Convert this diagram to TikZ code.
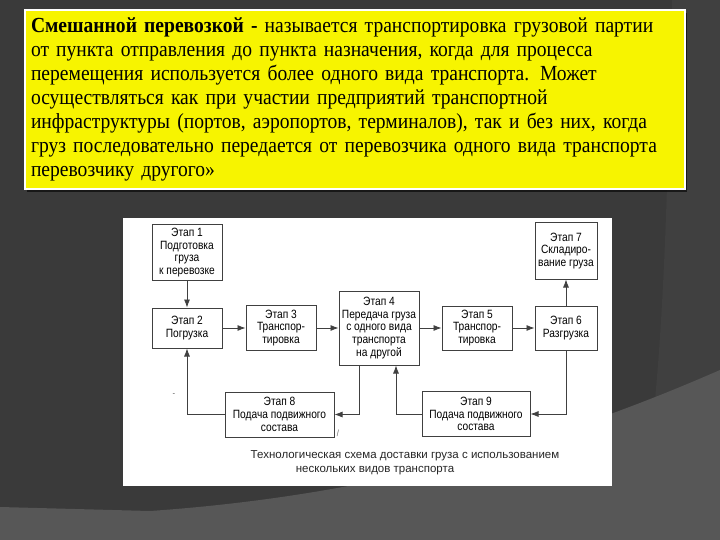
\documentclass[tikz,border=0pt]{standalone}
\usepackage{fontspec}
\setmainfont{Liberation Serif}[FakeStretch=0.91, WordSpace=0.8]
\newfontfamily\schemefont{Liberation Sans}[FakeStretch=0.85]
\newfontfamily\captfont{Liberation Sans}
\usepackage{tikz}
\usetikzlibrary{arrows.meta,positioning,shadows}
\definecolor{slidebg}{HTML}{3A3A3A}
\definecolor{slidearc}{HTML}{404040}
\definecolor{slidelow}{HTML}{575757}
\definecolor{notefill}{HTML}{F7F400}
\tikzset{
  notebox/.style={fill=notefill, draw=white, line width=2pt, align=left,
                  font=\fontsize{21.5}{24}\selectfont, inner xsep=6pt,
                  text width=648pt, minimum height=179pt,
                  drop shadow={shadow xshift=2pt, shadow yshift=-3pt,
                               fill=black, opacity=0.6}},
  stagebox/.style={draw=black!75, line width=1pt, fill=white, align=center,
                   font=\schemefont\fontsize{12}{12.7}\selectfont,
                   inner sep=2pt, minimum width=70pt},
  flow/.style={-{Latex[length=8pt,width=6pt]}, line width=0.8pt, black!75},
  capt/.style={font=\captfont\fontsize{11.5}{13}\selectfont,
               text=black!85, inner sep=0pt},
  speck/.style={font=\schemefont\small, text=black!60, inner sep=0pt},
}

\begin{document}
\begin{tikzpicture}[x=1pt, y=-1pt, node distance=22pt and 22pt]
  \useasboundingbox (0,0) rectangle (720,540);
  % slide background
  \fill[slidebg] (0,0) rectangle (720,540);
  \fill[slidearc] (672,0) .. controls (668,150) and (666,300) .. (652,430)
    -- (720,430) -- (720,0) -- cycle;
  \fill[slidelow] (0,507) -- (150,511) .. controls (380,495) and (560,440)
    .. (720,370) -- (720,540) -- (0,540) -- cycle;
  % definition
  \node[notebox, anchor=north west] (note) at (24,9) {%
    \textbf{Смешанной перевозкой -} называется транспортировка грузовой партии\\
    от пункта отправления до пункта назначения, когда для процесса\\
    перемещения используется более одного вида транспорта. Может\\
    осуществляться как при участии предприятий транспортной\\
    инфраструктуры (портов, аэропортов, терминалов), так и без них, когда\\
    груз последовательно передается от перевозчика одного вида транспорта\\
    перевозчику другого»};
  % scheme sheet
  \fill[white] (123,218) rectangle (612,486);
  % stages
  \node[stagebox, minimum height=40pt] (s2) at (187,328) {Этап 2\\Погрузка};
  \node[stagebox, minimum height=55pt, above=27pt of s2] (s1)
    {Этап 1\\Подготовка\\груза\\к перевозке};
  \node[stagebox, minimum height=45pt, right=23pt of s2] (s3)
    {Этап 3\\Транспор-\\тировка};
  \node[stagebox, minimum width=80pt, minimum height=74pt, right=of s3] (s4)
    {Этап 4\\Передача груза\\с одного вида\\транспорта\\на другой};
  \node[stagebox, minimum height=44pt, right=of s4] (s5)
    {Этап 5\\Транспор-\\тировка};
  \node[stagebox, minimum width=62pt, minimum height=44pt, right=of s5] (s6)
    {Этап 6\\Разгрузка};
  \node[stagebox, minimum width=62pt, minimum height=56pt, above=26pt of s6] (s7)
    {Этап 7\\Складиро-\\вание груза};
  \node[stagebox, minimum width=109pt, minimum height=45pt] (s8) at (279.5,414.5)
    {Этап 8\\Подача подвижного\\состава};
  \node[stagebox, minimum width=108pt, minimum height=45pt] (s9) at (476,414)
    {Этап 9\\Подача подвижного\\состава};
  % flows
  \draw[flow] (s1) -- (s2);
  \draw[flow] (s2) -- (s3);
  \draw[flow] (s3) -- (s4);
  \draw[flow] (s4) -- (s5);
  \draw[flow] (s5) -- (s6);
  \draw[flow] (s6) -- (s7);
  \draw[flow] ([xshift=-20pt]s4.south) |- (s8);
  \draw[flow] (s8) -| (s2);
  \draw[flow] (s6) |- (s9);
  \draw[flow] (s9) -| ([xshift=17pt]s4.south);
  % caption
  \node[capt] (cap1) at (405,456)
    {Технологическая схема доставки груза с использованием};
  \node[capt] (cap2) at (375,471) {нескольких видов транспорта};
  \node[speck] (dash) at (174,395) {-};
  \node[speck] (tick) at (338,433) {/};
\end{tikzpicture}
\end{document}
